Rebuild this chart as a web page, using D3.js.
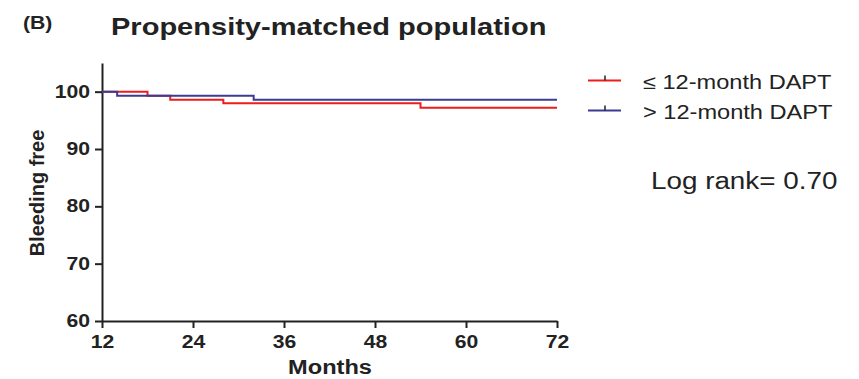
<!DOCTYPE html>
<html>
<head>
<meta charset="utf-8">
<script src="https://cdn.jsdelivr.net/npm/d3@7"></script>
<style>
  body { margin: 0; background: #fff; }
  svg text { font-family: "Liberation Sans", Arial, sans-serif; fill: #222; }
</style>
</head>
<body>
<svg id="chart" width="859" height="379"></svg>
<script>
// Kaplan-Meier step data: time (months) and % bleeding-free
const shortTimes = [12, 18, 21, 28, 54, 72];
const shortValues = [100, 99.3, 98.6, 98.0, 97.2, 97.2];
const longTimes = [12, 14, 32, 72];
const longValues = [100, 99.3, 98.6, 98.6];
const seriesNames = ["\u2264 12-month DAPT", "> 12-month DAPT"];
const seriesColors = ["#ee1c1c", "#3b3b92"];
const xTicks = [12, 24, 36, 48, 60, 72];
const yTicks = [60, 70, 80, 90, 100];

const WIDE = 1.21; // horizontal widening of the typeface

const svg = d3.select("#chart");
const x = d3.scaleLinear().domain([12, 72]).range([102, 557]);
const y = d3.scaleLinear().domain([60, 105]).range([321, 63]);

// axes
const xAxis = svg.append("g").attr("transform", "translate(0,321)")
  .call(d3.axisBottom(x).tickValues(xTicks).tickSize(7).tickSizeOuter(0).tickPadding(8));
const yAxis = svg.append("g").attr("transform", "translate(102,0)")
  .call(d3.axisLeft(y).tickValues(yTicks).tickSize(7).tickSizeOuter(0).tickPadding(5));
[xAxis, yAxis].forEach(g => {
  g.attr("font-family", null).attr("font-size", null);
  g.select(".domain").attr("stroke", "#222").attr("stroke-width", 2);
  g.selectAll(".tick line").attr("stroke", "#222").attr("stroke-width", 2);
  g.selectAll(".tick text")
    .style("font-size", "17.5px").style("font-weight", "bold")
    .attr("x", function() { return (+d3.select(this).attr("x") || 0) / WIDE; })
    .attr("transform", `scale(${WIDE},1)`);
});

// survival curves
const line = d3.line().x(d => x(d[0])).y(d => y(d[1])).curve(d3.curveStepAfter);
const series = [
  d3.zip(shortTimes, shortValues),
  d3.zip(longTimes, longValues)
];
series.forEach((pts, i) => {
  svg.append("path").datum(pts).attr("d", line)
    .attr("fill", "none").attr("stroke", seriesColors[i]).attr("stroke-width", 2);
});

// widened text helper
function label(tx, ty, str, size, weight, anchor) {
  return svg.append("text")
    .attr("transform", `translate(${tx},${ty}) scale(${WIDE},1)`)
    .attr("text-anchor", anchor || "start")
    .style("font-size", size + "px")
    .style("font-weight", weight || "normal")
    .text(str);
}

// legend
seriesNames.forEach((name, i) => {
  const ly = 80.5 + i * 30;
  svg.append("line").attr("x1", 588).attr("x2", 621).attr("y1", ly).attr("y2", ly)
    .attr("stroke", seriesColors[i]).attr("stroke-width", 2);
  svg.append("line").attr("x1", 605).attr("x2", 605).attr("y1", ly - 5).attr("y2", ly)
    .attr("stroke", "#222").attr("stroke-width", 1.5);
  label(643, ly + 8.5, name, 19.5);
});

label(651, 189, "Log rank= 0.70", 23);

// titles and axis labels
label(23, 29, "(B)", 17.5, "bold");
label(111, 35, "Propensity-matched population", 24, "bold");
label(330, 374, "Months", 19.5, "bold", "middle");
svg.append("text").attr("transform", "translate(44,193) rotate(-90)")
  .attr("text-anchor", "middle")
  .style("font-size", "20px").style("font-weight", "bold")
  .text("Bleeding free");
</script>
</body>
</html>
